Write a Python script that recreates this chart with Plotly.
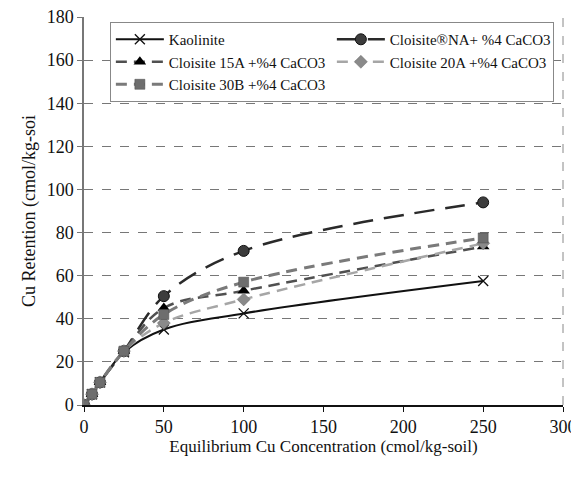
import plotly.graph_objects as go

x_conc = [0, 5, 10, 25, 50, 100, 250]
kaolinite = [0, 5, 10.5, 24.5, 35, 42.5, 57.5]
cloisite_na = [0, 5, 10.5, 25, 50.5, 71.5, 94]
cloisite_15a = [0, 5, 10.5, 25, 45, 53, 73.5]
cloisite_20a = [0, 5, 10.5, 25, 38, 49, 75]
cloisite_30b = [0, 5, 10.5, 25, 42, 57, 77.5]

names = ["Kaolinite", "Cloisite®NA+ %4 CaCO3", "Cloisite 15A +%4 CaCO3",
         "Cloisite 20A +%4 CaCO3", "Cloisite 30B +%4 CaCO3"]

FONT = "Liberation Serif"

fig = go.Figure()

styles = [
    (kaolinite, dict(color="#111111", width=2, dash="solid"),
     dict(symbol="x-thin-open", size=10, color="#111111", line=dict(width=1.3, color="#111111"))),
    (cloisite_na, dict(color="#2a2a2a", width=2.5, dash="20px,11px"),
     dict(symbol="circle", size=11, color="#3c3c3c", line=dict(width=1, color="#111111"))),
    (cloisite_15a, dict(color="#505050", width=2.5, dash="11px,7px"),
     dict(symbol="triangle-up", size=11, color="#000000", line=dict(width=0))),
    (cloisite_20a, dict(color="#a6a6a6", width=2.5, dash="11px,7px"),
     dict(symbol="diamond", size=10, color="#8a8a8a", line=dict(width=0.5, color="#6a6a6a"))),
    (cloisite_30b, dict(color="#7a7a7a", width=3, dash="11px,7px"),
     dict(symbol="square", size=10, color="#6e6e6e", line=dict(width=0.5, color="#4a4a4a"))),
]

for name, (vals, ln, mk) in zip(names, styles):
    fig.add_trace(go.Scatter(
        x=x_conc, y=vals, name=name, mode="lines+markers",
        line=dict(shape="spline", smoothing=1.0, **ln),
        marker=mk,
    ))

fig.update_layout(
    template="none",
    width=571, height=464,
    margin=dict(l=76, r=16, t=9, b=67, autoexpand=False),
    paper_bgcolor="white", plot_bgcolor="white",
    font=dict(family=FONT, size=16, color="#111111"),
    showlegend=True,
    legend=dict(
        orientation="h", x=0.054, y=0.987, xanchor="left", yanchor="top",
        entrywidth=158, entrywidthmode="pixels",
        bgcolor="white", bordercolor="#888888", borderwidth=1,
        font=dict(family=FONT, size=15, color="#111111"),
        itemwidth=48,
    ),
    xaxis=dict(
        automargin=False, ticklabeloverflow="allow",
        range=[0, 300], tickvals=[0, 50, 100, 150, 200, 250, 300],
        showgrid=False, zeroline=False,
        showline=True, linecolor="#111111", linewidth=1.5,
        ticks="outside", ticklen=5, tickcolor="#111111",
        tickfont=dict(family=FONT, size=18, color="#111111"),
        title=dict(text="Equilibrium Cu Concentration (cmol/kg-soil)",
                   font=dict(family=FONT, size=17, color="#111111"), standoff=0),
    ),
    yaxis=dict(
        automargin=False, ticklabeloverflow="allow",
        range=[0, 180], tickvals=list(range(0, 181, 20)),
        showgrid=True, gridcolor="#777777", griddash="dash", gridwidth=1,
        zeroline=False,
        showline=True, linecolor="#777777", linewidth=1.5,
        ticks="outside", ticklen=5, tickcolor="#777777",
        tickfont=dict(family=FONT, size=18, color="#111111"),
        title=dict(text="Cu Retention (cmol/kg-soi",
                   font=dict(family=FONT, size=18, color="#111111"), standoff=6),
    ),
)

fig.add_shape(type="line", xref="paper", yref="paper", x0=1, x1=1, y0=0, y1=1,
              line=dict(color="#888888", width=1, dash="dash"))

fig.write_html("out.html")
